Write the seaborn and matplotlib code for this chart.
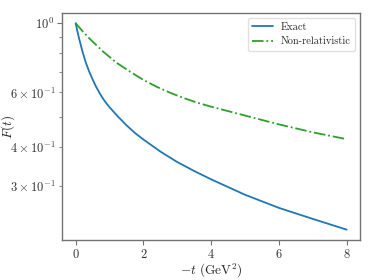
import matplotlib
matplotlib.use("Agg")
import matplotlib.pyplot as plt
import seaborn as sns
import pandas as pd

# Data
t_exact = [0, 0.05, 0.1, 0.2, 0.3, 0.4, 0.5, 0.6, 0.7, 0.8, 0.9, 1.0, 1.25, 1.5, 1.75,
           2, 2.5, 3, 3.5, 4, 5, 6, 7, 8]
f_exact = [1.0, 0.944, 0.895, 0.813, 0.748, 0.700, 0.661, 0.627, 0.599, 0.575, 0.555, 0.538,
           0.502, 0.471, 0.445, 0.424, 0.388, 0.359, 0.336, 0.316, 0.282, 0.256, 0.236, 0.218]
t_nr = [0, 0.2, 0.4, 0.8, 1.2, 1.6, 2, 2.4, 2.8, 3.2, 3.6, 4, 5, 6, 7, 8]
f_nr = [1.0, 0.944, 0.895, 0.813, 0.748, 0.700, 0.658, 0.625, 0.598, 0.575, 0.556, 0.540,
        0.506, 0.474, 0.447, 0.425]
series_labels = ["Exact", "Non-relativistic"]

sns.set_style("ticks")
plt.rcParams.update({
    "font.family": "serif",
    "font.serif": ["cmr10", "DejaVu Serif"],
    "mathtext.fontset": "cm",
    "axes.formatter.use_mathtext": True,
    "axes.edgecolor": "0.45",
    "axes.linewidth": 1.0,
    "xtick.color": "0.45",
    "ytick.color": "0.45",
    "xtick.labelcolor": "0.2",
    "ytick.labelcolor": "0.2",
})

fig = plt.figure(figsize=(3.74, 2.80), dpi=100)
ax = fig.add_axes([0.166, 0.143, 0.797, 0.811])

df_e = pd.DataFrame({"t": t_exact, "F": f_exact})
df_n = pd.DataFrame({"t": t_nr, "F": f_nr})
sns.lineplot(data=df_e, x="t", y="F", ax=ax, color="#1f77b4", lw=1.3, label=series_labels[0])
sns.lineplot(data=df_n, x="t", y="F", ax=ax, color="#2ca02c", lw=1.3, ls="-.", label=series_labels[1])

ax.set_yscale("log")
ax.set_xticks([0, 2, 4, 6, 8])
ax.set_xlabel(r"$-t$ (GeV$^2$)", fontsize=9.5, labelpad=1)
ax.set_ylabel(r"$F(t)$", fontsize=9.5)
ax.yaxis.set_label_coords(-0.152, 0.5)
ax.tick_params(axis="both", which="major", labelsize=9, length=3.5, pad=2)
ax.tick_params(axis="y", which="minor", labelsize=9, length=2.2, pad=2)
for s in ax.spines.values():
    s.set_visible(True)
leg = ax.legend(loc="upper right", fontsize=7.5, frameon=True, fancybox=True,
                edgecolor="0.85", handlelength=2.0)

fig.savefig("out.png", dpi=100)
